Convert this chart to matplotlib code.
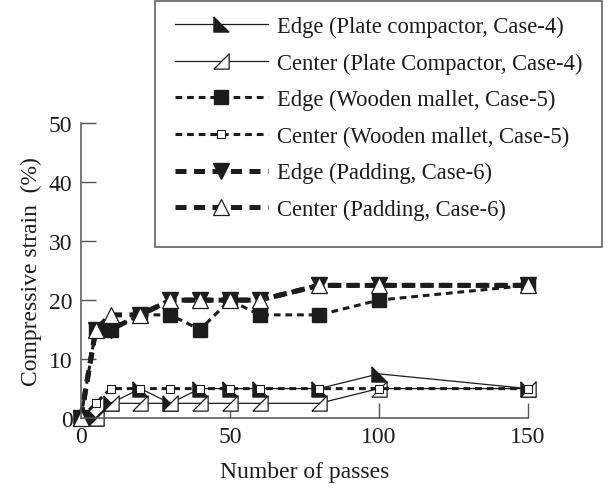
import matplotlib
matplotlib.use('Agg')
import matplotlib.pyplot as plt
from matplotlib.patches import Rectangle

plt.rcParams['font.family'] = ['Liberation Serif', 'DejaVu Serif']

passes = [0, 5, 10, 20, 30, 40, 50, 60, 80, 100, 150]

edge_plate = [0, 0, 2.5, 5, 2.5, 5, 5, 5, 5, 7.5, 5]
center_plate = [0, 0, 2.5, 2.5, 2.5, 2.5, 2.5, 2.5, 2.5, 5, 5]
edge_mallet = [0, 15, 15, 17.5, 17.5, 15, 20, 17.5, 17.5, 20, 22.5]
center_mallet = [0, 2.5, 5, 5, 5, 5, 5, 5, 5, 5, 5]
edge_padding = [0, 15, 15, 17.5, 20, 20, 20, 20, 22.5, 22.5, 22.5]
center_padding = [0, 15, 17.5, 17.5, 20, 20, 20, 20, 22.5, 22.5, 22.5]

labels = ['Edge (Plate compactor, Case-4)',
          'Center (Plate Compactor, Case-4)',
          'Edge (Wooden mallet, Case-5)',
          'Center (Wooden mallet, Case-5)',
          'Edge (Padding, Case-6)',
          'Center (Padding, Case-6)']

# right-angled triangle markers
tri_edge = [(-1, 1), (-1, -1), (1, -1), (-1, 1)]
tri_center = [(-1, -1), (1, -1), (1, 1), (-1, -1)]

ink = '#1c1c1c'
grey = '#555555'

fig = plt.figure(figsize=(6.08, 4.89), dpi=100)
ax = fig.add_axes([0.133, 0.143, 0.735, 0.603])

ax.plot(passes, edge_plate, color=ink, lw=0.9, marker=tri_edge, ms=11,
        mfc=ink, mec=ink, mew=0.8, clip_on=False, label=labels[0])
ax.plot(passes, center_plate, color=ink, lw=0.9, marker=tri_center, ms=11,
        mfc='white', mec=ink, mew=0.9, clip_on=False, label=labels[1])
ax.plot(passes, edge_mallet, color=ink, lw=2.2, dashes=(2.2, 1.6), marker='s', ms=10,
        mfc=ink, mec=ink, clip_on=False, label=labels[2])
ax.plot(passes, center_mallet, color=ink, lw=2.2, dashes=(2.2, 1.6), marker='s', ms=6,
        mfc='white', mec=ink, mew=0.8, clip_on=False, label=labels[3])
ax.plot(passes, edge_padding, color=ink, lw=3.6, dashes=(2.2, 1.5), marker='v', ms=12,
        mfc=ink, mec=ink, clip_on=False, label=labels[4])
ax.plot(passes, center_padding, color=ink, lw=3.6, dashes=(2.2, 1.5), marker='^', ms=11,
        mfc='white', mec=ink, mew=0.9, clip_on=False, label=labels[5])

ax.set_xlim(0, 150)
ax.set_ylim(0, 50)
ax.set_xticks([0, 50, 100, 150])
ax.set_yticks([0, 10, 20, 30, 40, 50])
ax.tick_params(direction='in', length=11, width=1, colors=grey,
               labelcolor=ink, labelsize=17, pad=6)
for side in ['top', 'right']:
    ax.spines[side].set_visible(False)
for side in ['left', 'bottom']:
    ax.spines[side].set_color(grey)
    ax.spines[side].set_linewidth(1.1)

ax.set_xlabel('Number of passes', fontsize=17, color=ink, labelpad=10)
ax.set_ylabel('Compressive strain  (%)', fontsize=17, color=ink, labelpad=5)

# legend entries without their own frame, box drawn separately
leg = fig.legend(loc='upper left', bbox_to_anchor=(175 / 608, 1 - 17 / 489),
                 fontsize=16.3, frameon=False, numpoints=1,
                 handlelength=4.1, handletextpad=0.4, labelspacing=0.68,
                 borderpad=0, borderaxespad=0)
for t in leg.get_texts():
    t.set_color(ink)

fig.patches.append(Rectangle((155 / 608, 1 - 248 / 489), 447 / 608, 246 / 489,
                             transform=fig.transFigure, fill=False,
                             edgecolor=grey, linewidth=1.1, zorder=5))

fig.savefig('out.png', dpi=100)
